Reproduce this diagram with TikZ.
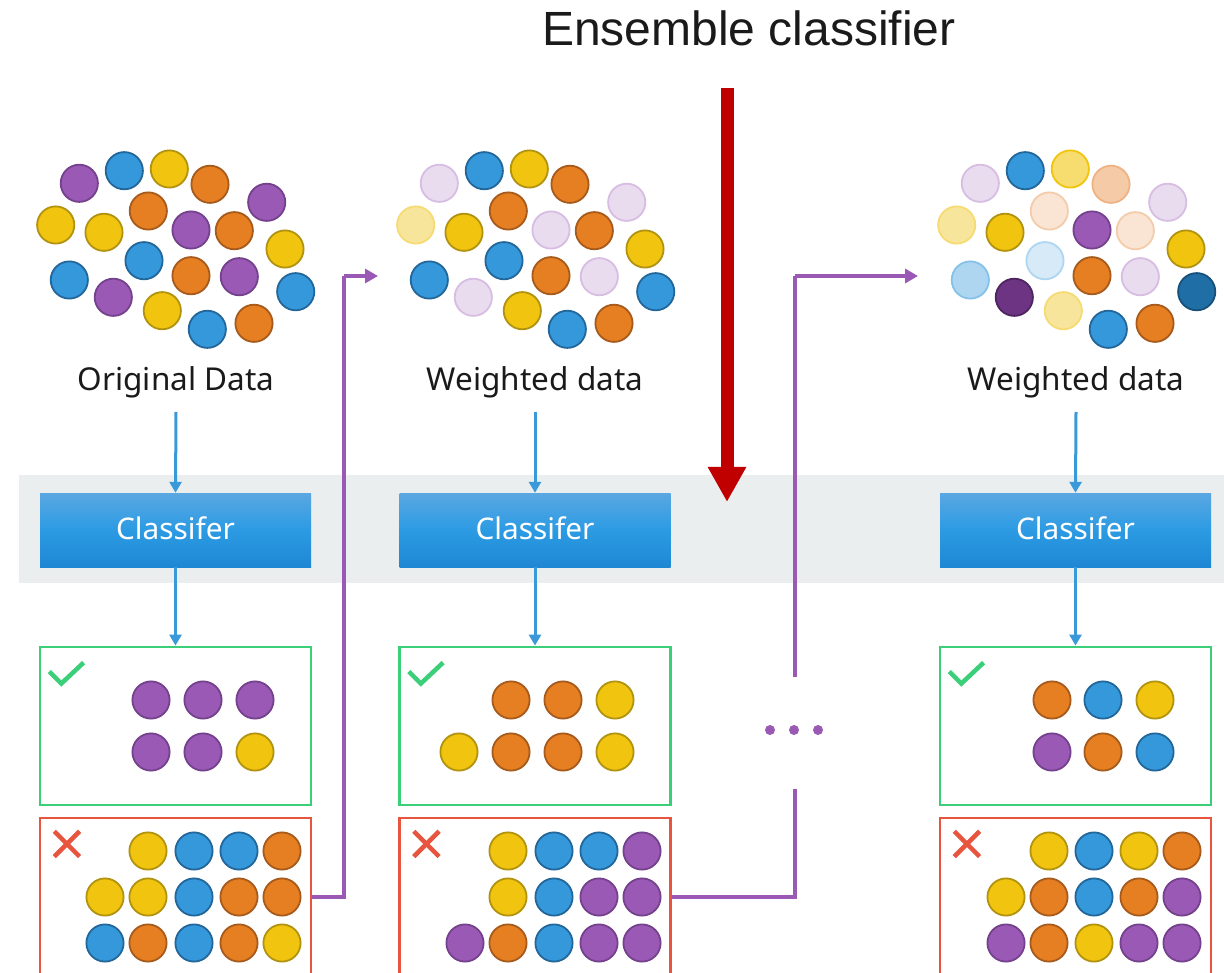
\documentclass[tikz,border=0pt]{standalone}
\usepackage{fontspec}
\newfontfamily\titlefont{Liberation Sans}
\newfontfamily\plexfont{Noto Sans}
\usetikzlibrary{arrows.meta,calc}
\definecolor{P}{HTML}{9B59B6}\definecolor{Pe}{HTML}{74418C}
\definecolor{B}{HTML}{3498DB}\definecolor{Be}{HTML}{23679A}
\definecolor{Y}{HTML}{F1C40F}\definecolor{Ye}{HTML}{B2930F}
\definecolor{O}{HTML}{E67E22}\definecolor{Oe}{HTML}{A65A1C}
\definecolor{lP}{HTML}{E9DCEF}\definecolor{lPe}{HTML}{D8BDE3}
\definecolor{lY}{HTML}{F8E59C}\definecolor{lYe}{HTML}{F6DB73}
\definecolor{mY}{HTML}{F7DC6F}\definecolor{mYe}{HTML}{F1C40F}
\definecolor{lO}{HTML}{F5CBA7}\definecolor{lOe}{HTML}{EFB283}
\definecolor{vO}{HTML}{FAE5D4}\definecolor{vOe}{HTML}{F4CCA9}
\definecolor{lB}{HTML}{AED6F1}\definecolor{lBe}{HTML}{85C1E9}
\definecolor{vB}{HTML}{D6EAF8}\definecolor{vBe}{HTML}{AED6F1}
\definecolor{dB}{HTML}{1F6FA6}\definecolor{dBe}{HTML}{17507A}
\definecolor{dP}{HTML}{6C3483}\definecolor{dPe}{HTML}{4E2560}
\definecolor{bandgray}{HTML}{EBEEEF}
\definecolor{arrowblue}{HTML}{3A9AD9}
\definecolor{linepurple}{HTML}{9B59B6}
\definecolor{okgreen}{HTML}{3CCF7A}
\definecolor{badred}{HTML}{E8553F}
\definecolor{bigred}{HTML}{C00000}
\definecolor{clstop}{HTML}{5AA7E2}
\definecolor{clsmid}{HTML}{2C9BE3}
\definecolor{clsbot}{HTML}{1E87D4}
\definecolor{txt}{HTML}{1A1A1A}
\newcommand\bl[3]{\filldraw[fill=#3, draw=#3e, line width=1.8pt] (#1,#2) circle (18.6);}
\tikzset{
  clsbox/.style={minimum width=271pt, minimum height=74pt, inner sep=0pt,
    top color=clstop, bottom color=clsbot, middle color=clsmid, draw=none,
    text=white, font=\plexfont\fontsize{29.8}{34}\selectfont},
  okbox/.style={draw=okgreen, line width=2.8pt, minimum width=271pt, minimum height=158pt, inner sep=0pt},
  badbox/.style={draw=badred, line width=2.8pt, minimum width=271pt, minimum height=158pt, inner sep=0pt},
  lbl/.style={text=txt, font=\plexfont\fontsize{31.5}{36}\selectfont, anchor=base, inner sep=0pt},
  barrow/.style={draw=arrowblue, line width=3pt, -{Triangle[length=11pt,width=12pt]}},
  parrow/.style={draw=linepurple, line width=3.6pt},
  ptip/.style={-{Triangle[length=13pt,width=14pt]}},
  tick/.style={draw=okgreen, line width=4.5pt},
  crossmark/.style={draw=badred, line width=4.5pt}
}
\begin{document}
\begin{tikzpicture}[x=1pt,y=-1pt]
\clip (0,0) rectangle (1224,973);
\fill[white] (0,0) rectangle (1224,973);
\fill[bandgray] (19,475) rectangle (1224,583);

% title and big red arrow
\node[anchor=base, inner sep=0pt, text=txt, font=\titlefont\fontsize{48}{56}\selectfont] (title) at (749,46) {Ensemble classifier};
\coordinate (rt) at (727,88);
\coordinate (rb) at (727,502);
\draw[bigred, line width=13pt, -{Triangle[length=35pt,width=36pt]}] (rt) -- (rb);

% ---------- clusters ----------
% left: original data
\foreach \px/\py/\c in {79.3/183.3/P,124.3/170.7/B,169.3/169/Y,210/184.3/O,266.7/202.3/P,
  55.7/225/Y,104/232.3/Y,148.3/211/O,191/230/P,234.3/230.7/O,285/249/Y,
  69.3/280/B,144/260.7/B,191/275.7/O,239.3/276.7/P,295.7/291.7/B,
  113.3/297.3/P,162.3/310.7/Y,207.3/329.3/B,254/323.3/O}{\bl{\px}{\py}{\c}}
% middle: weighted
\foreach \px/\py/\c in {79.3/183.3/lP,124.3/170.7/B,169.3/169/Y,210/184.3/O,266.7/202.3/lP,
  55.7/225/lY,104/232.3/Y,148.3/211/O,191/230/lP,234.3/230.7/O,285/249/Y,
  69.3/280/B,144/260.7/B,191/275.7/O,239.3/276.7/lP,295.7/291.7/B,
  113.3/297.3/lP,162.3/310.7/Y,207.3/329.3/B,254/323.3/O}{\bl{\px+360}{\py}{\c}}
% right: weighted
\foreach \px/\py/\c in {79.3/183.3/lP,124.3/170.7/B,169.3/169/mY,210/184.3/lO,266.7/202.3/lP,
  55.7/225/lY,104/232.3/Y,148.3/211/vO,191/230/P,234.3/230.7/vO,285/249/Y,
  69.3/280/lB,144/260.7/vB,191/275.7/O,239.3/276.7/lP,295.7/291.7/dB,
  113.3/297.3/dP,162.3/310.7/lY,207.3/329.3/B,254/323.3/O}{\bl{\px+901}{\py}{\c}}

% ---------- labels ----------
\node[lbl] (lab1) at (176,391) {Original Data};
\node[lbl] (lab2) at (535,391) {Weighted data};
\node[lbl] (lab3) at (1076,391) {Weighted data};

% ---------- classifiers ----------
\node[clsbox] (cls1) at (175.5,530) {\raisebox{3pt}{Classifer}};
\node[clsbox] (cls2) at (535,530) {\raisebox{3pt}{Classifer}};
\node[clsbox] (cls3) at (1075.5,530) {\raisebox{3pt}{Classifer}};

% ---------- result boxes ----------
\node[okbox] (g1) at (175.5,726) {};
\node[okbox] (g2) at (535,726) {};
\node[okbox] (g3) at (1075.5,726) {};
\node[badbox] (r1) at (175.5,897) {};
\node[badbox] (r2) at (535,897) {};
\node[badbox] (r3) at (1075.5,897) {};

% blue arrows
\foreach \i in {1,2,3}{
  \draw[barrow] ([yshift=-21pt]lab\i.base) -- (cls\i.north);
  \draw[barrow] (cls\i.south) -- (g\i.north);
}

% tick and cross marks
\foreach \i in {1,2,3}{
  \draw[tick] ([shift={(10.7,26)}]g\i.north west) -- ++(12,12) -- ++(22.3,-21);
  \draw[crossmark] ([shift={(15.7,14.7)}]r\i.north west) -- ++(25.3,25.3);
  \draw[crossmark] ([shift={(15.7,40)}]r\i.north west) -- ++(25.3,-25.3);
}

% ---------- circles in the result boxes ----------
% left column
\bl{151}{700}{P}\bl{203}{700}{P}\bl{255}{700}{P}
\bl{151}{752}{P}\bl{203}{752}{P}\bl{255}{752}{Y}
\bl{148}{851}{Y}\bl{194}{851}{B}\bl{239}{851}{B}\bl{282}{851}{O}
\bl{105}{897}{Y}\bl{148}{897}{Y}\bl{194}{897}{B}\bl{239}{897}{O}\bl{282}{897}{O}
\bl{105}{943}{B}\bl{148}{943}{O}\bl{194}{943}{B}\bl{239}{943}{O}\bl{282}{943}{Y}
% middle column
\bl{511}{700}{O}\bl{563}{700}{O}\bl{615}{700}{Y}
\bl{459}{752}{Y}\bl{511}{752}{O}\bl{563}{752}{O}\bl{615}{752}{Y}
\bl{508}{851}{Y}\bl{554}{851}{B}\bl{599}{851}{B}\bl{642}{851}{P}
\bl{508}{897}{Y}\bl{554}{897}{B}\bl{599}{897}{P}\bl{642}{897}{P}
\bl{465}{943}{P}\bl{508}{943}{O}\bl{554}{943}{B}\bl{599}{943}{P}\bl{642}{943}{P}
% right column
\bl{1052}{700}{O}\bl{1103}{700}{B}\bl{1155}{700}{Y}
\bl{1052}{752}{P}\bl{1103}{752}{O}\bl{1155}{752}{B}
\bl{1049}{851}{Y}\bl{1094}{851}{B}\bl{1139}{851}{Y}\bl{1182}{851}{O}
\bl{1006}{897}{Y}\bl{1049}{897}{O}\bl{1094}{897}{B}\bl{1139}{897}{O}\bl{1182}{897}{P}
\bl{1006}{943}{P}\bl{1049}{943}{O}\bl{1094}{943}{Y}\bl{1139}{943}{P}\bl{1182}{943}{P}

% ---------- purple connectors ----------
\coordinate (c1) at (344,276);
\coordinate (p1) at (378,276);
\draw[parrow] (r1.east) -| (c1);
\draw[parrow, ptip] (c1) -- (p1);

\coordinate (d1) at (795,789);
\coordinate (d2) at (795,677);
\coordinate (c2) at (795,276);
\coordinate (p2) at (918,276);
\draw[parrow] (r2.east) -| (d1);
\draw[parrow] (d2) -- (c2);
\draw[parrow, ptip] (c2) -- (p2);
\fill[linepurple] (770,730) circle (5) (794,730) circle (5) (818,730) circle (5);
\end{tikzpicture}
\end{document}
